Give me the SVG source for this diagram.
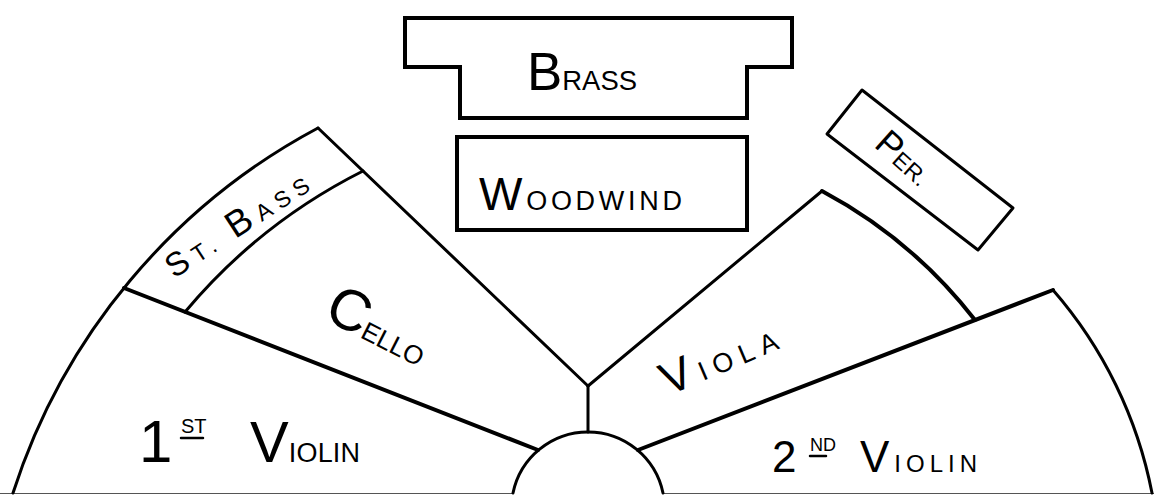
<svg xmlns="http://www.w3.org/2000/svg" width="1154" height="495" viewBox="0 0 1154 495">
<style>
.ln{fill:none;stroke:#000;stroke-width:3;stroke-linecap:round;stroke-linejoin:round}
.bx{fill:none;stroke:#000;stroke-width:4;stroke-linejoin:miter}
.thk{stroke-width:4}
.base{fill:none;stroke:#555;stroke-width:1.2}
text{font-family:"Liberation Sans","DejaVu Sans",sans-serif;fill:#000}
</style>
<rect x="0" y="0" width="1154" height="495" fill="#fff"/>

<g id="baseline">
<line class="base" x1="0" y1="493.5" x2="513" y2="493.5"/>
<line class="base" x1="663" y1="493.5" x2="1154" y2="493.5"/>
</g>

<g id="brass">
<polygon class="bx" points="405,18 792,18 792,67 747,67 747,118 460,118 460,67 405,67"/>
<text x="527" y="90" textLength="110" lengthAdjust="spacingAndGlyphs"><tspan font-size="54">B</tspan><tspan font-size="28">RASS</tspan></text>
</g>

<g id="woodwind">
<rect class="bx" x="457" y="137" width="290" height="93"/>
<text x="479" y="210" textLength="203" lengthAdjust="spacing"><tspan font-size="46">W</tspan><tspan font-size="27">OODWIND</tspan></text>
</g>

<g id="percussion">
<polygon class="ln" points="862,90 1013,208 978,250 827,134"/>
<text x="873" y="146" transform="rotate(42 873 146)"><tspan font-size="36">P</tspan><tspan font-size="23">ER.</tspan></text>
</g>

<g id="podium">
<path class="ln" d="M513 493 A76.6 76.6 0 0 1 663 493"/>
<line class="ln" x1="588" y1="386" x2="588" y2="432"/>
</g>

<g id="connectors">
<path class="ln" d="M13 493 A633 633 0 0 1 318 128"/>
<line class="ln" x1="318" y1="128" x2="588" y2="386"/>
<line class="ln thk" x1="124" y1="288" x2="538" y2="450"/>
<path class="ln" d="M185 312 A560 560 0 0 1 363 171"/>
<line class="ln" x1="588" y1="386" x2="822" y2="191"/>
<path class="ln thk" d="M822 191 A480 480 0 0 1 975 320"/>
<line class="ln thk" x1="638" y1="450" x2="1053" y2="290"/>
<path class="ln" d="M1053 290 A436 436 0 0 1 1152 493"/>
</g>

<g id="st-bass">
<text x="174" y="279" transform="rotate(-33 174 279)" textLength="164" lengthAdjust="spacing"><tspan font-size="33">S</tspan><tspan font-size="23">T. </tspan><tspan font-size="37">B</tspan><tspan font-size="23">ASS</tspan></text>
</g>

<g id="cello">
<text x="322" y="318" transform="rotate(27 322 318)" textLength="108" lengthAdjust="spacing"><tspan font-size="58">C</tspan><tspan font-size="26">ELLO</tspan></text>
</g>

<g id="first-violin">
<text x="139" y="462" font-size="60">1</text>
<text x="181" y="433" font-size="20">ST</text>
<line class="ln" x1="181" y1="438" x2="203" y2="438" style="stroke-width:2.5"/>
<text x="250" y="462" textLength="110" lengthAdjust="spacing"><tspan font-size="58">V</tspan><tspan font-size="27">IOLIN</tspan></text>
</g>

<g id="viola">
<text x="668" y="396" transform="rotate(-23 668 396)" textLength="122" lengthAdjust="spacing"><tspan font-size="46">V</tspan><tspan font-size="27">IOLA</tspan></text>
</g>

<g id="second-violin">
<text x="772" y="472" font-size="44">2</text>
<text x="810" y="451" font-size="18">ND</text>
<line class="ln" x1="810" y1="456" x2="826" y2="456" style="stroke-width:2.5"/>
<text x="860" y="472" textLength="117" lengthAdjust="spacing"><tspan font-size="44">V</tspan><tspan font-size="24">IOLIN</tspan></text>
</g>
</svg>
